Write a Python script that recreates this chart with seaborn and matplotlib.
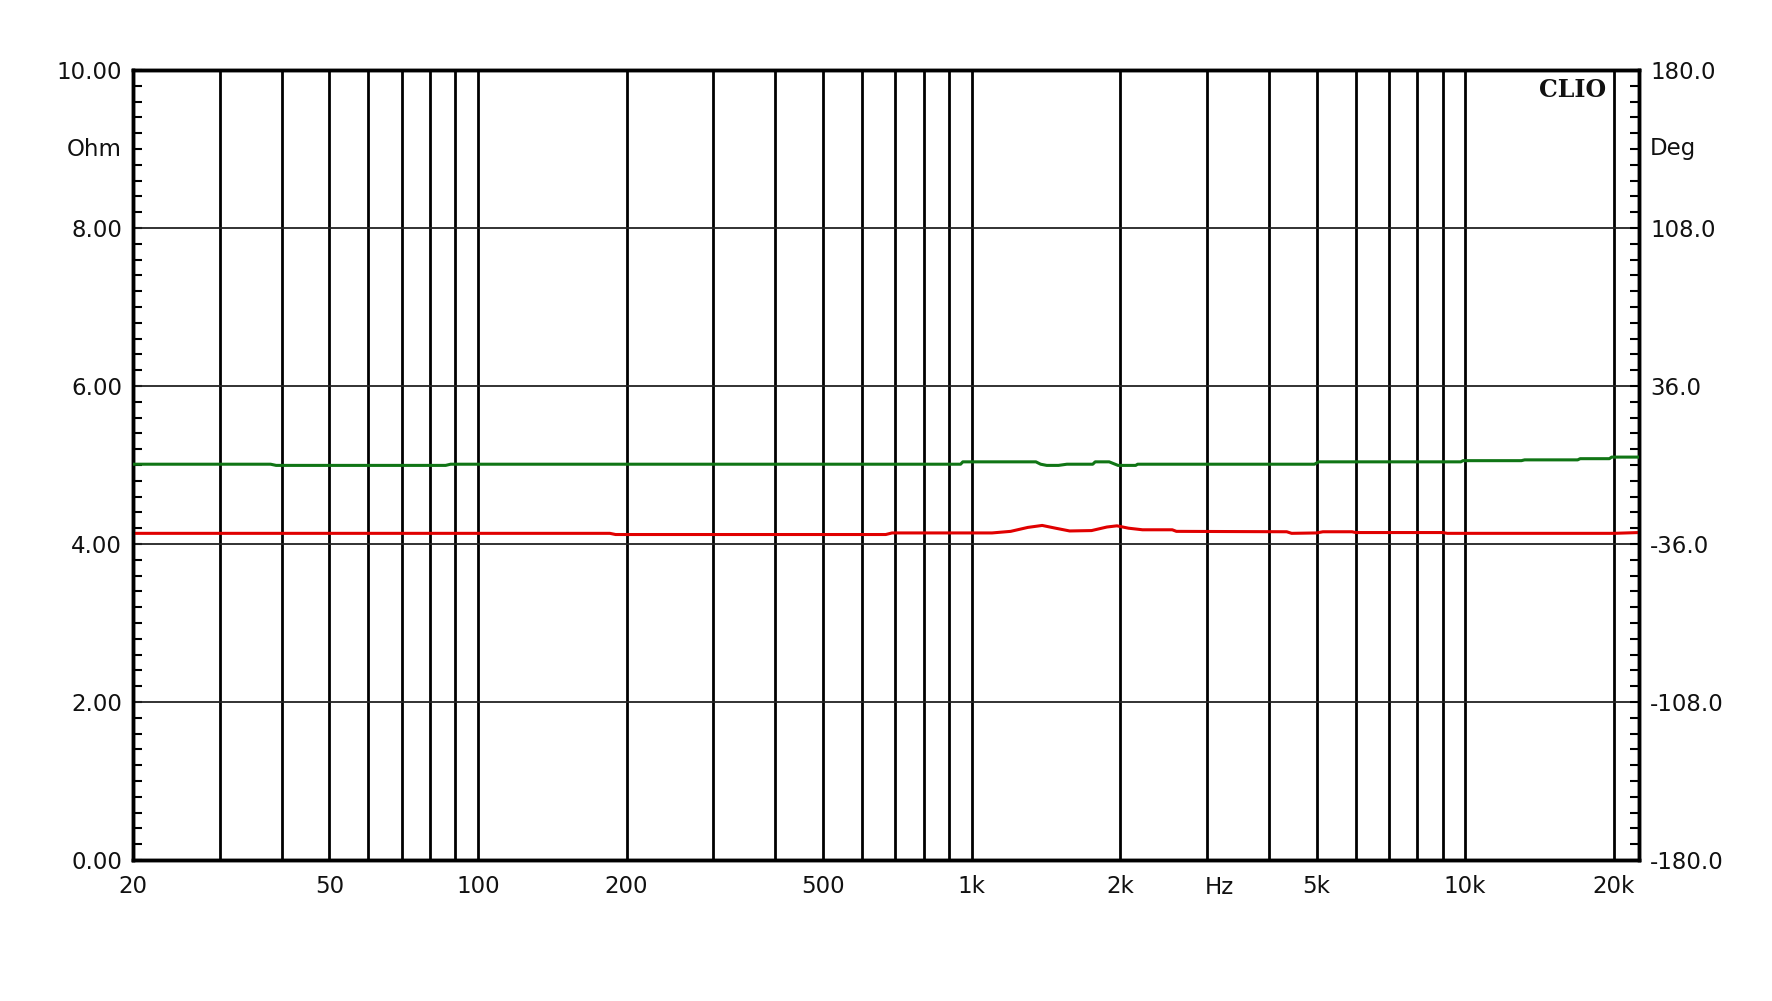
import matplotlib
matplotlib.use("Agg")
import matplotlib.pyplot as plt
import matplotlib.transforms as mtransforms
import seaborn as sns
import pandas as pd
import numpy as np

# ---------------- data ----------------
imp_freq = [20, 185, 190, 670, 690, 1100, 1200, 1300, 1390, 1480, 1580, 1750, 1880,
            1970, 2080, 2220, 2550, 2600, 4350, 4450, 5000, 5150, 5900, 6000, 9000,
            9200, 20000, 22500]
imp_ohm = [4.135, 4.135, 4.12, 4.12, 4.14, 4.14, 4.16, 4.21, 4.235, 4.20, 4.165, 4.17, 4.215,
           4.23, 4.20, 4.18, 4.18, 4.16, 4.155, 4.135, 4.14, 4.155, 4.155, 4.145, 4.145,
           4.135, 4.135, 4.145]

ph_freq = [20, 38, 39, 86, 88, 950, 960, 1350, 1380, 1420, 1500, 1560, 1760, 1780,
           1900, 1980, 2150, 2170, 4950, 5050, 9800, 9900, 13000, 13200, 16900, 17100,
           19600, 19800, 22500]
ph_deg = [0.36, 0.36, -0.18, -0.18, 0.36, 0.36, 1.44, 1.44, 0.36, -0.18, -0.18, 0.36, 0.36, 1.44,
          1.44, -0.18, -0.18, 0.36, 0.36, 1.44, 1.44, 1.98, 1.98, 2.34, 2.34, 2.88,
          2.88, 3.6, 3.6]

grid_freqs = [20, 30, 40, 50, 60, 70, 80, 90, 100, 200, 300, 400, 500, 600, 700, 800, 900,
              1000, 2000, 3000, 4000, 5000, 6000, 7000, 8000, 9000, 10000, 20000]
x_label_map = {20: "20", 50: "50", 100: "100", 200: "200", 500: "500", 1000: "1k",
               2000: "2k", 5000: "5k", 10000: "10k", 20000: "20k"}
left_ticks = [0, 2, 4, 6, 8, 10]
right_ticks = [-180, -108, -36, 36, 108, 180]

# ---------------- style ----------------
sns.set_style("white")
plt.rcParams['font.family'] = ['DejaVu Sans']
plt.rcParams['axes.unicode_minus'] = False
FS = 16.5
TXT = "#111111"

fig = plt.figure(figsize=(17.72, 10.01), dpi=100)
ax = fig.add_axes([133 / 1772, 1 - 860 / 1001, (1639 - 133) / 1772, 790 / 1001])

df_imp = pd.DataFrame({"f": imp_freq, "v": imp_ohm})
df_ph = pd.DataFrame({"f": ph_freq, "v": ph_deg})

sns.lineplot(data=df_imp, x="f", y="v", ax=ax, color="#e00000", lw=2.2, zorder=5,
             estimator=None, sort=False)
ax.set_xscale("log")
ax.set_xlim(20, 22500)
ax.set_ylim(0, 10)

ax2 = ax.twinx()
sns.lineplot(data=df_ph, x="f", y="v", ax=ax2, color="#107515", lw=2.2, zorder=5,
             estimator=None, sort=False)
ax2.set_ylim(-180, 180)
ax2.set_xlim(20, 22500)

# x grid / ticks
ax.set_xticks(grid_freqs)
ax.set_xticklabels([x_label_map.get(f, "") for f in grid_freqs])
ax.xaxis.set_minor_locator(matplotlib.ticker.NullLocator())
ax.tick_params(axis="x", which="major", length=0, pad=11, labelsize=FS, labelcolor=TXT)
for f in grid_freqs[1:]:
    ax.axvline(f, color="black", lw=2.0, zorder=2)
for y in left_ticks[1:-1]:
    ax.axhline(y, color="#222222", lw=1.3, zorder=2)

# left y
ax.set_yticks(left_ticks)
ax.set_yticklabels([f"{v:.2f}" for v in left_ticks])
ax.set_yticks(np.arange(0, 10.01, 0.2), minor=True)
ax.tick_params(axis="y", which="both", direction="in", length=6.5, width=1.5,
               color="black", left=True, right=False, pad=8, labelsize=FS,
               labelcolor=TXT)
ax.set_xlabel("")
ax.set_ylabel("")

# right y
ax2.set_yticks(right_ticks)
ax2.set_yticklabels([f"{v:.1f}" for v in right_ticks])
ax2.set_yticks(np.arange(-180, 180.01, 7.2), minor=True)
ax2.tick_params(axis="y", which="both", direction="in", length=6.5, width=1.5,
                color="black", right=True, left=False, pad=8, labelsize=FS,
                labelcolor=TXT)
ax2.set_ylabel("")
ax2.set_xlabel("")

for a in (ax, ax2):
    for s in a.spines.values():
        s.set_visible(True)
        s.set_color("black")
        s.set_linewidth(2.5)

# unit labels
trans_l = mtransforms.offset_copy(ax.get_yaxis_transform(), fig=fig, x=-11, y=0, units="dots")
ax.text(0, 9, "Ohm", transform=trans_l, ha="right", va="center", fontsize=FS, color=TXT)
trans_r = mtransforms.offset_copy(ax.get_yaxis_transform(), fig=fig, x=11, y=0, units="dots")
ax.text(1, 9, "Deg", transform=trans_r, ha="left", va="center", fontsize=FS, color=TXT)
trans_x = mtransforms.offset_copy(ax.get_xaxis_transform(), fig=fig, x=0, y=-16, units="dots")
ax.text(3170, 0, "Hz", transform=trans_x, ha="center", va="top", fontsize=FS, color=TXT)

ax.text(0.978, 0.990, "CLIO", transform=ax.transAxes, ha="right", va="top",
        fontsize=17, fontweight="bold", family=["DejaVu Serif"],
        color=TXT, zorder=6)

fig.savefig("out.png", dpi=100, facecolor="white")
